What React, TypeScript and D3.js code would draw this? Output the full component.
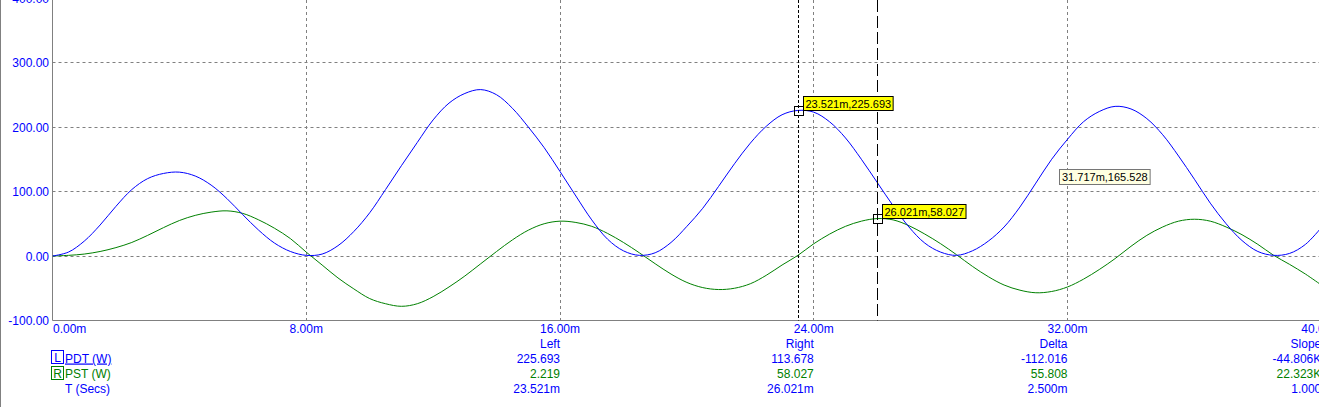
import React, { useLayoutEffect, useRef, useState } from "react";
import * as d3 from "d3";

// Time samples (ms)
const times = [
  0, 0.5, 1, 1.5, 2, 2.5, 3, 3.5, 4, 4.5, 5, 5.5, 6, 6.5, 7, 7.5, 8, 8.5, 9, 9.5,
  10, 10.5, 11, 11.5, 12, 12.5, 13, 13.5, 14, 14.5, 15, 15.5, 16, 16.5, 17, 17.5, 18, 18.5, 19, 19.5,
  20, 20.5, 21, 21.5, 22, 22.5, 23, 23.5, 24, 24.5, 25, 25.5, 26, 26.5, 27, 27.5, 28, 28.5, 29, 29.5,
  30, 30.5, 31, 31.5, 32, 32.5, 33, 33.5, 34, 34.5, 35, 35.5, 36, 36.5, 37, 37.5, 38, 38.5, 39, 39.5, 40,
];

// PDT (W) — blue
const pdt = [
  0, 6, 23, 48, 77, 103, 120, 128, 130, 124, 110, 89, 64, 40, 20, 7, 1, 3, 16, 38,
  67, 103, 140, 176, 211, 237, 252, 258, 250, 229, 200, 168, 131, 93, 56, 26, 8, 1, 5, 21,
  46, 74, 108, 143, 175, 201, 219, 225.7, 223, 208, 183, 150, 114, 78, 45, 20, 6, 1, 8, 23,
  45, 76, 113, 150, 181, 208, 224, 232, 228, 213, 188, 155, 119, 82, 50, 24, 7, 1, 4, 18, 44,
];

// PST (W) — green
const pst = [
  0, 1, 3, 7, 13, 21, 32, 44, 55, 63, 68, 70, 66, 56, 43, 27, 6, -14, -34, -51,
  -66, -74, -78, -74, -63, -48, -31, -12, 7, 25, 40, 50, 54, 52, 46, 35, 21, 5, -12, -28,
  -41, -49, -52, -50, -43, -30, -14, 1, 19, 34, 46, 54, 58, 56, 47, 34, 19, 2, -16, -32,
  -45, -53, -57, -55, -48, -36, -21, -4, 15, 32, 45, 54, 57, 54, 45, 33, 18, 1, -13, -28, -45,
];

const yTicks = [-100, 0, 100, 200, 300, 400];
const yTickLabels = ["-100.00", "0.00", "100.00", "200.00", "300.00", "400.00"];
const xTicks = [0, 8, 16, 24, 32, 40];
const xTickLabels = ["0.00m", "8.00m", "16.00m", "24.00m", "32.00m", "40.00m"];

const cursorTimes = [23.521, 26.021];
const cursorValues = [225.693, 58.027];
const cursorLabels = ["23.521m,225.693", "26.021m,58.027"];

const hoverTime = 31.717;
const hoverValue = 165.528;
const hoverLabel = "31.717m,165.528";

const tableHeaders = ["Left", "Right", "Delta", "Slope"];
const pdtRow = ["225.693", "113.678", "-112.016", "-44.806K"];
const pstRow = ["2.219", "58.027", "55.808", "22.323K"];
const tRow = ["23.521m", "26.021m", "2.500m", "1.000"];
const tableColumnTimes = [16, 24, 32, 40];

const W = 1319;
const H = 407;
const BLUE = "#0000ff";
const GREEN = "#008000";
const GRAY = "#808080";
const FONT = "'Liberation Sans', Arial, sans-serif";

export default function App() {
  const x = d3.scaleLinear().domain([0, 40]).range([52.5, 52.5 + 40 * 31.72]);
  const y = d3.scaleLinear().domain([-100, 400]).range([320.5, -2]);
  const px = (v: number) => Math.round(v - 0.5) + 0.5;

  const line = (vals: number[]) =>
    d3
      .line<number>()
      .x((_, i) => x(times[i]))
      .y((d) => y(d))
      .curve(d3.curveCatmullRom.alpha(0.5))(vals) || "";

  const labelRefs = useRef<(SVGTextElement | null)[]>([]);
  const [widths, setWidths] = useState<number[]>([88, 82, 88]);
  useLayoutEffect(() => {
    const w = labelRefs.current.map((el, i) => (el ? el.getComputedTextLength() : widths[i]));
    if (w.some((v, i) => Math.abs(v - widths[i]) > 0.5)) setWidths(w);
  }, []);

  const left = x(0);
  const bottom = y(-100);
  const rowBaselines = [348, 363, 378, 393];

  return (
    <div style={{ position: "fixed", left: 0, top: 0 }}>
      <svg width={W} height={H} style={{ display: "block", background: "#fff" }} fontFamily={FONT}>
        <defs>
          <clipPath id="plotclip">
            <rect x={left} y={-10} width={W - left + 10} height={bottom + 10} />
          </clipPath>
        </defs>
        {/* outer border */}
        <line x1={0.5} x2={0.5} y1={0} y2={H} stroke={GRAY} />

        {/* horizontal grid */}
        {yTicks.slice(1).map((t) => (
          <line key={"hg" + t} x1={left} x2={W} y1={px(y(t))} y2={px(y(t))} stroke={GRAY} strokeDasharray="3,3" />
        ))}
        {/* vertical grid */}
        {xTicks.slice(1).map((t) => (
          <line key={"vg" + t} x1={px(x(t))} x2={px(x(t))} y1={0} y2={bottom} stroke={GRAY} strokeDasharray="3,3" />
        ))}

        {/* axes */}
        <line x1={left} x2={left} y1={0} y2={bottom} stroke={GRAY} />
        <line x1={left} x2={W} y1={bottom} y2={bottom} stroke={GRAY} />

        {/* y labels */}
        {yTicks.map((t, i) => (
          <text key={"yl" + t} x={49} y={y(t) + 4.5} textAnchor="end" fontSize={12} fill={BLUE}>
            {yTickLabels[i]}
          </text>
        ))}
        {/* x labels */}
        {xTicks.map((t, i) => (
          <text
            key={"xl" + t}
            x={i === 0 ? x(t) + 0.5 : x(t)}
            y={333}
            textAnchor={i === 0 ? "start" : "middle"}
            fontSize={12}
            fill={BLUE}
          >
            {xTickLabels[i]}
          </text>
        ))}

        {/* series */}
        <g clipPath="url(#plotclip)">
          <path d={line(pst)} fill="none" stroke={GREEN} strokeWidth={1} />
          <path d={line(pdt)} fill="none" stroke={BLUE} strokeWidth={1} />
        </g>

        {/* cursors */}
        <line x1={px(x(cursorTimes[0]))} x2={px(x(cursorTimes[0]))} y1={0} y2={bottom} stroke="#000" strokeDasharray="3,2" />
        <line x1={px(x(cursorTimes[1]))} x2={px(x(cursorTimes[1]))} y1={0} y2={bottom} stroke="#000" strokeDasharray="12,4" />

        {/* cursor markers and labels */}
        {cursorTimes.map((t, i) => {
          const cx = px(x(t));
          const cy = px(y(cursorValues[i]));
          const bw = widths[i] + 4;
          return (
            <g key={"cm" + i}>
              <rect x={cx - 4} y={cy - 4} width={9} height={9} fill="none" stroke="#000" />
              <rect x={cx + 5} y={cy - 14} width={bw} height={14} fill="#ffff00" stroke="#000" />
              <text
                ref={(el) => {
                  labelRefs.current[i] = el;
                }}
                x={cx + 7}
                y={cy - 2.5}
                fontSize={11}
                fill="#000"
              >
                {cursorLabels[i]}
              </text>
            </g>
          );
        })}

        {/* hover tooltip */}
        {(() => {
          const hx = px(x(hoverTime));
          const hy = Math.round(y(hoverValue));
          return (
            <g>
              <rect x={hx + 1} y={hy + 20.5} width={widths[2] + 5} height={15} fill="#ffffe1" stroke="#767676" />
              <text
                ref={(el) => {
                  labelRefs.current[2] = el;
                }}
                x={hx + 3.5}
                y={hy + 32}
                fontSize={11}
                fill="#000"
              >
                {hoverLabel}
              </text>
            </g>
          );
        })()}

        {/* table */}
        {tableColumnTimes.map((t, c) => (
          <g key={"col" + c}>
            <text x={x(t)} y={rowBaselines[0]} textAnchor="end" fontSize={12} fill={BLUE}>
              {tableHeaders[c]}
            </text>
            <text x={x(t)} y={rowBaselines[1]} textAnchor="end" fontSize={12} fill={BLUE}>
              {pdtRow[c]}
            </text>
            <text x={x(t)} y={rowBaselines[2]} textAnchor="end" fontSize={12} fill={GREEN}>
              {pstRow[c]}
            </text>
            <text x={x(t)} y={rowBaselines[3]} textAnchor="end" fontSize={12} fill={BLUE}>
              {tRow[c]}
            </text>
          </g>
        ))}

        {/* legend */}
        <rect x={51.5} y={350.5} width={12} height={13} fill="none" stroke={BLUE} />
        <text x={57.5} y={362} textAnchor="middle" fontSize={12} fill={BLUE}>L</text>
        <text x={65} y={362.5} fontSize={12} fill={BLUE} textDecoration="underline">PDT (W)</text>
        <rect x={51.5} y={366.5} width={12} height={13} fill="none" stroke={GREEN} />
        <text x={57.5} y={378} textAnchor="middle" fontSize={12} fill={GREEN}>R</text>
        <text x={65} y={377.5} fontSize={12} fill={GREEN}>PST (W)</text>
        <text x={65} y={392.5} fontSize={12} fill={BLUE}>T (Secs)</text>
      </svg>
    </div>
  );
}
